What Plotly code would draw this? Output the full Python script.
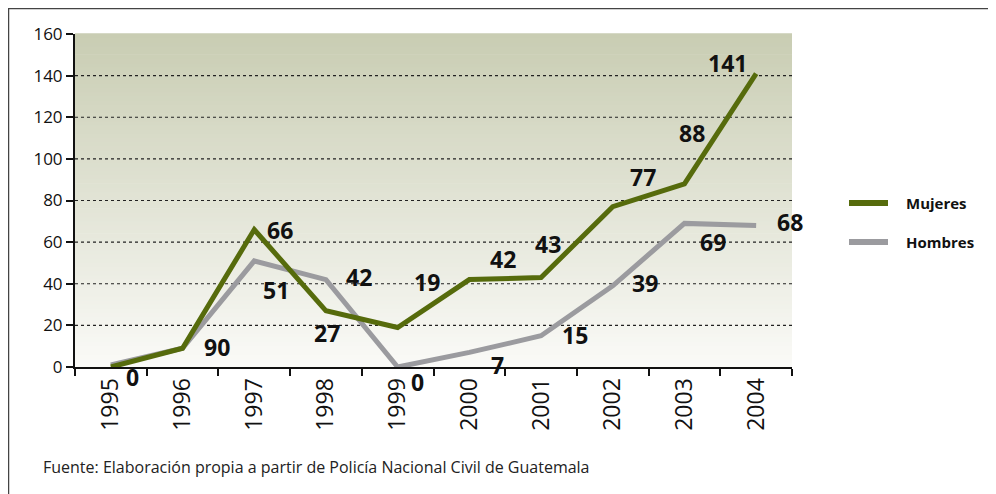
import plotly.graph_objects as go

# ---------------- data ----------------
years = ["1995", "1996", "1997", "1998", "1999", "2000", "2001", "2002", "2003", "2004"]
mujeres = [0, 9, 66, 27, 19, 42, 43, 77, 88, 141]
hombres = [1, 9, 51, 42, 0, 7, 15, 39, 69, 68]

# data labels as printed in the original (text, x category, y value)
label_text = ["0", "90", "66", "51", "27", "42", "19", "0", "42", "7", "43", "15", "39", "77", "88", "141", "69", "68"]
label_year = ["1995", "1996", "1997", "1997", "1998", "1998", "1999", "1999", "2000", "2000", "2001", "2001", "2002", "2002", "2003", "2004", "2003", "2004"]
label_val = [0, 9, 66, 51, 27, 42, 19, 0, 42, 7, 43, 15, 39, 77, 88, 141, 69, 68]
# pixel offsets of each label from its point (style only)
label_dx = [22, 34, 26, 22, 1, 33, 29, 20, 34, 28, 7, 34, 32, 30, 8, -29, 29, 34]
label_dy = [-10, 1, 0, -29, -22, 3, 45, -15, 21, -13, 34, 1, 3, 30, 51, 11, -19, 3]

yticks = [0, 20, 40, 60, 80, 100, 120, 140, 160]
grid_vals = [20, 40, 60, 80, 100, 120, 140]

series_names = ["Mujeres", "Hombres"]
series_colors = ["#566b0c", "#9b9b9f"]

source_text = "Fuente: Elaboración propia a partir de Policía Nacional Civil de Guatemala"

# ---------------- layout geometry ----------------
OFF = 8  # page body margin of the html page
W, H = 996, 494
PW, PH = 717, 333
L, T = 75 - OFF, 34 - OFF
R, B = W - L - PW, H - T - PH


def px2paper_x(px):
    return (px - OFF - L) / PW


def px2paper_y(py):
    return (T + PH - (py - OFF)) / PH


fig = go.Figure()

fig.add_trace(go.Scatter(x=years, y=hombres, mode="lines", name=series_names[1],
                         line=dict(color=series_colors[1], width=5), showlegend=False))
fig.add_trace(go.Scatter(x=years, y=mujeres, mode="lines", name=series_names[0],
                         line=dict(color=series_colors[0], width=5), showlegend=False))

shapes = []
# gradient background (bands)
top_rgb = (201, 205, 179)
bot_rgb = (250, 250, 247)
N = 80
for i in range(N):
    t = i / (N - 1)
    c = tuple(int(round(bot_rgb[k] + (top_rgb[k] - bot_rgb[k]) * t)) for k in range(3))
    shapes.append(dict(type="rect", xref="paper", yref="paper", x0=0, x1=1,
                       y0=i / N, y1=(i + 1) / N + 0.002, line=dict(width=0),
                       fillcolor="rgb(%d,%d,%d)" % c, layer="below"))
# dotted gridlines
for g in grid_vals:
    shapes.append(dict(type="line", xref="paper", yref="y", x0=0, x1=1, y0=g, y1=g,
                       line=dict(color="#222222", width=1.2, dash="dot"), layer="below"))
# frame around figure (top & left visible)
shapes.append(dict(type="line", xref="paper", yref="paper",
                   x0=px2paper_x(8), x1=px2paper_x(1010), y0=px2paper_y(8.5), y1=px2paper_y(8.5),
                   line=dict(color="#444444", width=1.5)))
shapes.append(dict(type="line", xref="paper", yref="paper",
                   x0=px2paper_x(8.5), x1=px2paper_x(8.5), y0=px2paper_y(8), y1=px2paper_y(510),
                   line=dict(color="#444444", width=1.5)))

annotations = []
for t, yr, v, dx, dy in zip(label_text, label_year, label_val, label_dx, label_dy):
    annotations.append(dict(x=years.index(yr), y=v, xref="x", yref="y", text=t, showarrow=False,
                            xshift=dx, yshift=dy,
                            font=dict(family="Open Sans", size=23, color="#111111", weight="bold")))

# manual legend
leg_y = [203, 242]
for name, col, ly in zip(series_names, series_colors, leg_y):
    shapes.append(dict(type="line", xref="paper", yref="paper",
                       x0=px2paper_x(849), x1=px2paper_x(888),
                       y0=px2paper_y(ly), y1=px2paper_y(ly),
                       line=dict(color=col, width=6)))
    annotations.append(dict(xref="paper", yref="paper", x=px2paper_x(904), y=px2paper_y(ly),
                            xanchor="left", yanchor="middle", text=name, showarrow=False,
                            font=dict(family="Open Sans", size=15, color="#111111", weight="bold")))

annotations.append(dict(xref="paper", yref="paper", x=px2paper_x(41), y=px2paper_y(467),
                        xanchor="left", yanchor="middle", text=source_text, showarrow=False,
                        font=dict(family="Open Sans", size=16, color="#222222")))

fig.update_layout(
    width=W, height=H,
    margin=dict(l=L, r=R, t=T, b=B, autoexpand=False),
    paper_bgcolor="white",
    plot_bgcolor="rgba(0,0,0,0)",
    shapes=shapes,
    annotations=annotations,
    showlegend=False,
    xaxis=dict(type="category", range=[-0.5, 9.5], tickson="boundaries",
               showline=True, linecolor="#111111", linewidth=2,
               ticks="outside", ticklen=7, tickwidth=2, tickcolor="#111111",
               tickangle=-90, showgrid=False, zeroline=False,
               tickfont=dict(family="Open Sans", size=23, color="#111111")),
    yaxis=dict(range=[0, 160], tickvals=yticks, showline=True, linecolor="#111111", linewidth=2,
               ticks="outside", ticklen=7, tickwidth=2, tickcolor="#111111",
               showgrid=False, zeroline=False,
               tickfont=dict(family="Open Sans", size=17, color="#111111")),
)

fig.write_html("out.html")
